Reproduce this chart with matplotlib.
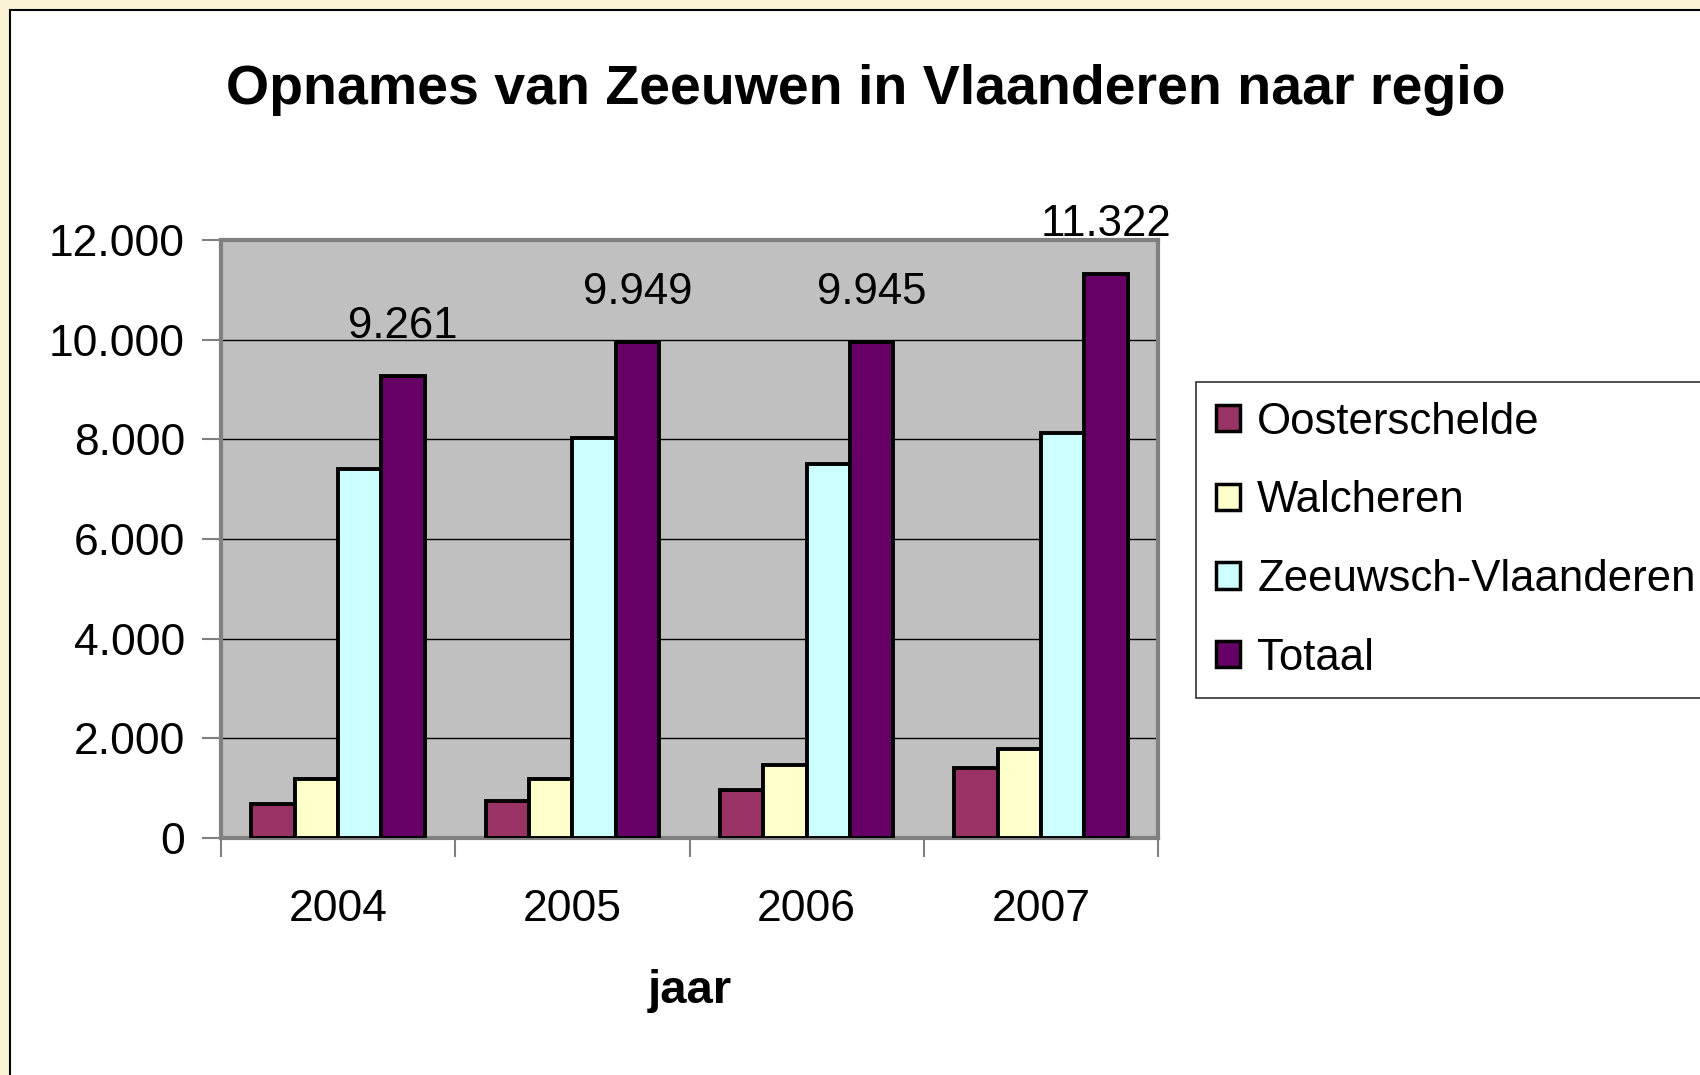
import matplotlib.pyplot as plt
import numpy as np
from matplotlib.patches import Rectangle

plt.rcParams['font.family'] = ['Liberation Sans', 'DejaVu Sans']

# Data
years = ['2004', '2005', '2006', '2007']
series_names = ['Oosterschelde', 'Walcheren', 'Zeeuwsch-Vlaanderen', 'Totaal']
oosterschelde = [680, 750, 960, 1410]
walcheren = [1180, 1180, 1470, 1790]
zeeuwsch_vlaanderen = [7400, 8020, 7515, 8120]
totaal = [9261, 9949, 9945, 11322]
totaal_labels = ['9.261', '9.949', '9.945', '11.322']
colors = ['#993366', '#FFFFCC', '#CCFFFF', '#660066']

fig = plt.figure(figsize=(17, 10.75), dpi=100)
fig.patch.set_facecolor('#FBF3D5')

# white chart panel with black border (runs off right and bottom edge)
panel = Rectangle((10 / 1700, -0.01), 1.0, 1 - 10 / 1075 + 0.01,
                  transform=fig.transFigure, facecolor='white',
                  edgecolor='black', linewidth=1.5, zorder=-10)
fig.patches.append(panel)

ax = fig.add_axes([221 / 1700, 1 - 838 / 1075, 937 / 1700, 598 / 1075])
ax.set_facecolor('#C0C0C0')

x = np.arange(len(years))
width = 0.185
all_series = [oosterschelde, walcheren, zeeuwsch_vlaanderen, totaal]
for i, (vals, name, col) in enumerate(zip(all_series, series_names, colors)):
    offset = (i - 1.5) * width
    ax.bar(x + offset, vals, width, color=col, edgecolor='black',
           linewidth=2.8, label=name, zorder=3)

# labels above the totals
for xi, v, lbl in zip(x, totaal, totaal_labels):
    ax.annotate(lbl, xy=(xi + 1.5 * width, v), xytext=(0, 21),
                textcoords='offset points', ha='center', va='bottom',
                fontsize=31.5, annotation_clip=False)

ax.set_xlim(-0.5, 3.5)
ax.set_ylim(0, 12000)
ax.set_yticks(range(0, 12001, 2000))
ax.set_yticklabels(['0', '2.000', '4.000', '6.000', '8.000', '10.000', '12.000'])
ax.yaxis.grid(True, color='black', linewidth=1)
ax.set_axisbelow(True)

# category ticks between groups, labels centred under groups
ax.set_xticks(np.arange(-0.5, 3.6, 1))
ax.set_xticklabels([])
ax.set_xticks(x, minor=True)
ax.set_xticklabels(years, minor=True)
ax.tick_params(axis='x', which='minor', length=0, pad=37, labelsize=32)
ax.tick_params(axis='x', which='major', length=14, direction='out', color='#808080', width=1.5)
ax.tick_params(axis='y', length=14, direction='out', color='#808080', width=1.5,
               labelsize=32, pad=12)

for side in ['left', 'right', 'top', 'bottom']:
    ax.spines[side].set_color('#808080')
    ax.spines[side].set_linewidth(3)

ax.set_xlabel('jaar', fontsize=34, fontweight='bold', labelpad=28)

fig.text(866 / 1700, 1 - 90 / 1075, 'Opnames van Zeeuwen in Vlaanderen naar regio',
         ha='center', va='center', fontsize=40, fontweight='bold')

leg = fig.legend(loc='upper left', bbox_to_anchor=(1196 / 1700, 1 - 382 / 1075),
                 fontsize=31.5, frameon=True, fancybox=False, edgecolor='black',
                 handlelength=0.55, handleheight=0.55, handletextpad=0.4,
                 labelspacing=0.86, borderpad=0.45, borderaxespad=0)
leg.get_frame().set_linewidth(1.2)
for h in leg.legend_handles:
    h.set_linewidth(2.5)

fig.savefig('out.png', dpi=100, facecolor=fig.get_facecolor())
